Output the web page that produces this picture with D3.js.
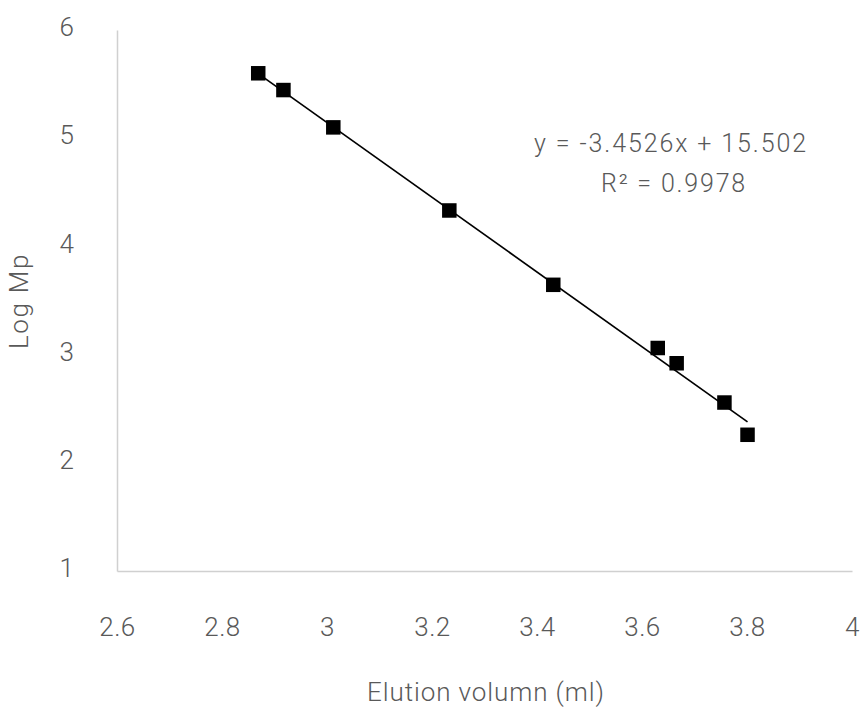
<!DOCTYPE html>
<html>
<head>
<meta charset="utf-8">
<script src="https://cdn.jsdelivr.net/npm/d3@7"></script>
<style>
  html, body { margin: 0; padding: 0; background: #fff; }
  svg text { font-family: Roboto, "Liberation Sans", sans-serif; font-weight: 300; fill: #595959; }
</style>
</head>
<body>
<svg id="chart" width="862" height="707"></svg>
<script>
// Calibration standards: elution volume (ml) vs log of peak molecular weight
const elutionVolume = [2.869, 2.917, 3.012, 3.233, 3.431, 3.630, 3.666, 3.757, 3.801];
const logMp = [5.60, 5.445, 5.10, 4.332, 3.645, 3.061, 2.92, 2.557, 2.259];

const xTicks = [2.6, 2.8, 3, 3.2, 3.4, 3.6, 3.8, 4];
const yTicks = [1, 2, 3, 4, 5, 6];

// Linear fit reported for the standards
const slope = -3.4526;
const intercept = 15.502;
const rSquared = 0.9978;

const svg = d3.select("#chart");
const x = d3.scaleLinear().domain([2.6, 4]).range([117, 852]);
const y = d3.scaleLinear().domain([1, 6]).range([571, 30]);

const axisColor = "#d0d0d0";

// X axis
const xAxis = svg.append("g")
  .attr("transform", `translate(0,${y(1)})`)
  .call(d3.axisBottom(x).tickValues(xTicks).tickSize(0).tickPadding(47)
    .tickFormat(d3.format("~g")));
xAxis.select(".domain").attr("stroke", axisColor).attr("stroke-width", 1.5);
xAxis.selectAll("text").style("font-size", "26px").attr("fill", "#595959")
  .style("letter-spacing", "0.5px");

// Y axis
const yAxis = svg.append("g")
  .attr("transform", `translate(${x(2.6)},0)`)
  .call(d3.axisLeft(y).tickValues(yTicks).tickSize(0).tickPadding(43)
    .tickFormat(d3.format("~g")));
yAxis.select(".domain").attr("stroke", axisColor).attr("stroke-width", 1.5);
yAxis.selectAll("text").style("font-size", "26px").attr("fill", "#595959")
  .attr("dy", "0.22em");

// Fitted line across the range of the standards
const xMin = d3.min(elutionVolume), xMax = d3.max(elutionVolume);
svg.append("line")
  .attr("x1", x(xMin)).attr("y1", y(slope * xMin + intercept))
  .attr("x2", x(xMax)).attr("y2", y(slope * xMax + intercept))
  .attr("stroke", "#000").attr("stroke-width", 1.7);

// Square markers
const size = 14.5;
svg.append("g").selectAll("rect")
  .data(elutionVolume.map((v, i) => [v, logMp[i]]))
  .join("rect")
  .attr("x", d => x(d[0]) - size / 2)
  .attr("y", d => y(d[1]) - size / 2)
  .attr("width", size).attr("height", size)
  .attr("fill", "#000");

// Trendline equation and R²
svg.append("text")
  .attr("x", 671).attr("y", 152)
  .attr("text-anchor", "middle")
  .style("font-size", "25px")
  .style("letter-spacing", "1.9px")
  .text(`y = ${slope}x + ${intercept}`);
svg.append("text")
  .attr("x", 674).attr("y", 192)
  .attr("text-anchor", "middle")
  .style("font-size", "25px")
  .style("letter-spacing", "1.8px")
  .text(`R² = ${rSquared}`);

// Axis titles
svg.append("text")
  .attr("x", 486).attr("y", 701)
  .attr("text-anchor", "middle")
  .style("font-size", "26px")
  .style("letter-spacing", "0.9px")
  .text("Elution volumn (ml)");
svg.append("text")
  .attr("transform", "translate(28,301) rotate(-90)")
  .attr("text-anchor", "middle")
  .style("font-size", "26px")
  .style("letter-spacing", "1.7px")
  .text("Log Mp");
</script>
</body>
</html>
